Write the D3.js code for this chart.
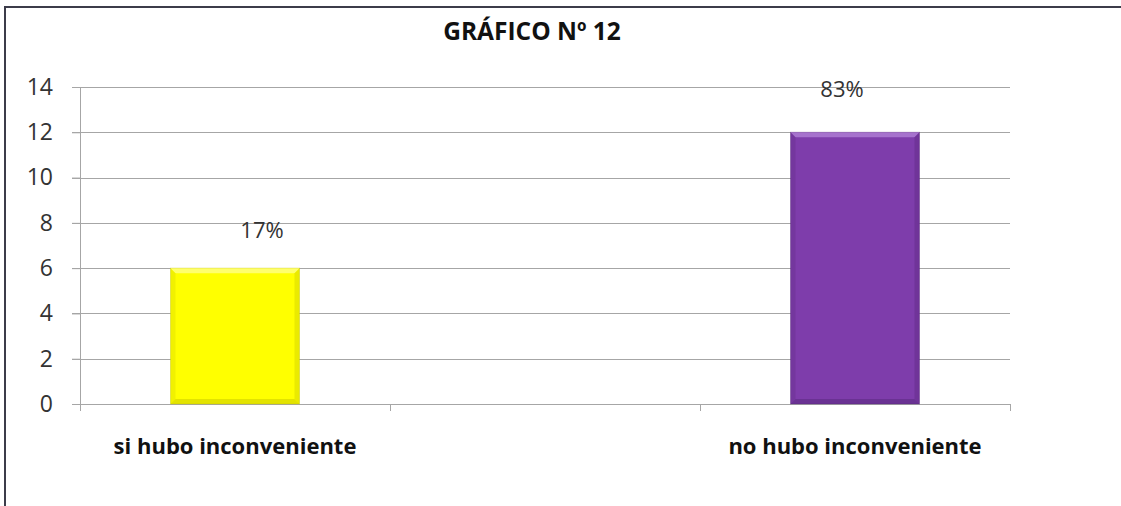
<!DOCTYPE html>
<html>
<head>
<meta charset="utf-8">
<script src="https://cdn.jsdelivr.net/npm/d3@7"></script>
<style>
  body { margin: 0; background: #fff; }
  svg { display: block; }
</style>
</head>
<body>
<svg id="chart" width="1121" height="506"></svg>
<script>
// chart data
const categories = ['si hubo inconveniente', '', 'no hubo inconveniente'];
const values = [6, null, 12];
const valueLabels = ['17%', '', '83%'];
const yTicks = [0, 2, 4, 6, 8, 10, 12, 14];
const title = 'GRÁFICO Nº 12';

const svg = d3.select('#chart');
const margin = {left: 80, right: 111, top: 87, bottom: 102};
const width = 1121 - margin.left - margin.right,
      height = 506 - margin.top - margin.bottom;

const fontFam = '"Open Sans", sans-serif';

// outer frame
svg.append('rect')
  .attr('x', 5).attr('y', 7)
  .attr('width', 1140).attr('height', 600)
  .attr('fill', 'none')
  .attr('stroke', '#3c3c4a')
  .attr('stroke-width', 2);

svg.append('text')
  .attr('x', 532).attr('y', 40)
  .attr('text-anchor', 'middle')
  .attr('font-family', fontFam)
  .attr('font-weight', 'bold')
  .attr('font-size', 24.5)
  .attr('fill', '#111')
  .text(title);

const g = svg.append('g').attr('transform', `translate(${margin.left},${margin.top})`);

const x = d3.scaleBand().domain(d3.range(categories.length)).range([0, width]).padding(0);
const y = d3.scaleLinear().domain([0, 14]).range([height, 0]);

// gridlines
g.append('g')
  .selectAll('line')
  .data(yTicks)
  .join('line')
    .attr('x1', -8).attr('x2', width)
    .attr('y1', d => Math.round(y(d)) + 0.5).attr('y2', d => Math.round(y(d)) + 0.5)
    .attr('stroke', '#a6a6a6');

// y axis
const yAxis = g.append('g')
  .call(d3.axisLeft(y).tickValues(yTicks).tickSize(8).tickPadding(19));
yAxis.select('.domain').attr('stroke', '#a6a6a6').attr('d', `M0.5,${height}V0`);
yAxis.selectAll('.tick line').attr('stroke', '#a6a6a6');
yAxis.selectAll('.tick text')
  .attr('font-family', fontFam)
  .attr('font-size', 23)
  .attr('fill', '#333');

// x axis category ticks at band edges
const edges = d3.range(categories.length + 1).map(i => i < categories.length ? x(i) : width);
g.append('g')
  .selectAll('line')
  .data(edges)
  .join('line')
    .attr('x1', d => Math.round(d) + 0.5).attr('x2', d => Math.round(d) + 0.5)
    .attr('y1', height).attr('y2', height + 7)
    .attr('stroke', '#a6a6a6');

g.append('g')
  .selectAll('text')
  .data(categories)
  .join('text')
    .attr('x', (d, i) => x(i) + x.bandwidth() / 2)
    .attr('y', height + 50)
    .attr('text-anchor', 'middle')
    .attr('font-family', fontFam)
    .attr('font-weight', 'bold')
    .attr('font-size', 22)
    .attr('fill', '#111')
    .text(d => d);

// bars with a soft bevel look
const barColors = ['#ffff00', null, '#7e3dab'];
const edgeColors = ['#b8b800', null, '#4e2270'];
const lightColors = ['#ffff9a', null, '#b889db'];

const barW = x.bandwidth() * 0.416;
const bars = values.map((v, i) => ({v, i})).filter(d => d.v != null);

const bar = g.append('g').selectAll('g')
  .data(bars)
  .join('g')
    .attr('transform', d => `translate(${x(d.i) + (x.bandwidth() - barW) / 2},${y(d.v)})`);

const bev = 5;
const bh = d => height - y(d.v);

bar.append('rect')
  .attr('width', barW)
  .attr('height', bh)
  .attr('fill', d => barColors[d.i])
  .attr('stroke', d => edgeColors[d.i])
  .attr('stroke-opacity', 0.35)
  .attr('stroke-width', 1);

// top highlight
bar.append('path')
  .attr('d', `M0,0H${barW}L${barW - bev},${bev}H${bev}Z`)
  .attr('fill', d => lightColors[d.i])
  .attr('opacity', 0.7);
// left & right darker edges
bar.append('path')
  .attr('d', d => `M0,0L${bev},${bev}V${bh(d) - bev}L0,${bh(d)}Z`)
  .attr('fill', d => edgeColors[d.i])
  .attr('opacity', 0.2);
bar.append('path')
  .attr('d', d => `M${barW},0L${barW - bev},${bev}V${bh(d) - bev}L${barW},${bh(d)}Z`)
  .attr('fill', d => edgeColors[d.i])
  .attr('opacity', 0.3);
// bottom edge
bar.append('path')
  .attr('d', d => `M0,${bh(d)}L${bev},${bh(d) - bev}H${barW - bev}L${barW},${bh(d)}Z`)
  .attr('fill', d => edgeColors[d.i])
  .attr('opacity', 0.4);

// value labels (placed a little off centre, as in the original)
const labelDx = [27, 0, -13];
g.append('g')
  .selectAll('text')
  .data(bars)
  .join('text')
    .attr('x', d => x(d.i) + x.bandwidth() / 2 + labelDx[d.i])
    .attr('y', d => y(d.v) - (d.i === 0 ? 30 : 35))
    .attr('text-anchor', 'middle')
    .attr('font-family', fontFam)
    .attr('font-size', 22)
    .attr('fill', '#333')
    .text(d => valueLabels[d.i]);
</script>
</body>
</html>
